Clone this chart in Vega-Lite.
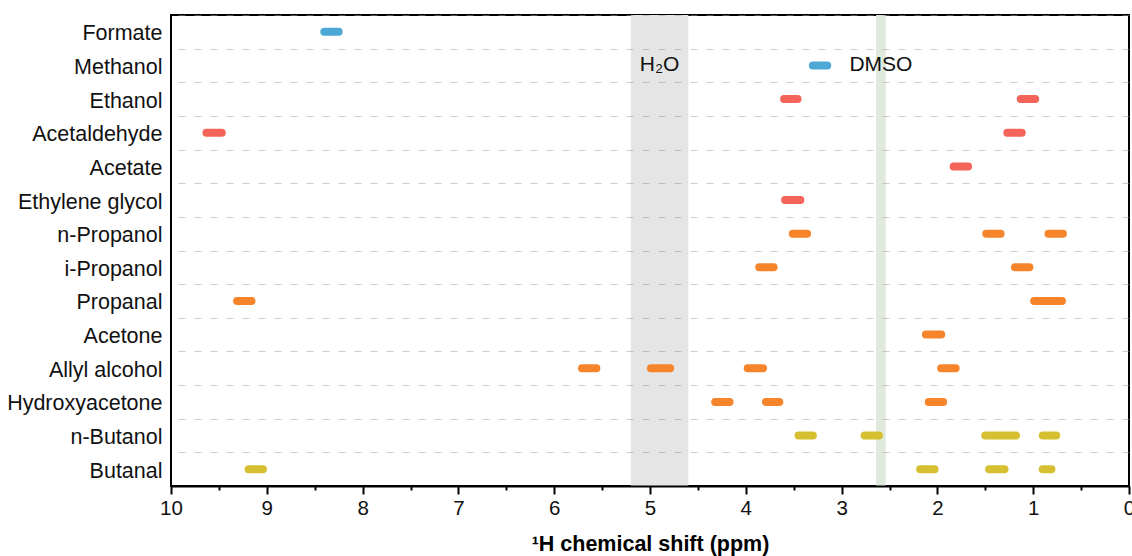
{
  "$schema": "https://vega.github.io/schema/vega-lite/v6.json",
  "width": 958,
  "height": 471,
  "autosize": "none",
  "padding": {"left": 171, "top": 15, "right": 3, "bottom": 70},
  "background": "white",
  "config": {
    "font": "Liberation Sans",
    "view": {"stroke": "black", "strokeWidth": 2, "fill": "white"}
  },
  "datasets": {
    "bands": [
      {"band": "H2O", "start": 5.2, "end": 4.6},
      {"band": "DMSO", "start": 2.64, "end": 2.54}
    ],
    "peaks": [
      {"compound": "Formate", "group": "C1", "start": 8.40, "end": 8.25},
      {"compound": "Methanol", "group": "C1", "start": 3.30, "end": 3.15},
      {"compound": "Ethanol", "group": "C2", "start": 3.60, "end": 3.46},
      {"compound": "Ethanol", "group": "C2", "start": 1.13, "end": 0.98},
      {"compound": "Acetaldehyde", "group": "C2", "start": 9.63, "end": 9.47},
      {"compound": "Acetaldehyde", "group": "C2", "start": 1.27, "end": 1.12},
      {"compound": "Acetate", "group": "C2", "start": 1.83, "end": 1.68},
      {"compound": "Ethylene glycol", "group": "C2", "start": 3.59, "end": 3.43},
      {"compound": "n-Propanol", "group": "C3", "start": 3.51, "end": 3.36},
      {"compound": "n-Propanol", "group": "C3", "start": 1.49, "end": 1.34},
      {"compound": "n-Propanol", "group": "C3", "start": 0.84, "end": 0.69},
      {"compound": "i-Propanol", "group": "C3", "start": 3.86, "end": 3.71},
      {"compound": "i-Propanol", "group": "C3", "start": 1.19, "end": 1.04},
      {"compound": "Propanal", "group": "C3", "start": 9.31, "end": 9.16},
      {"compound": "Propanal", "group": "C3", "start": 0.99, "end": 0.70},
      {"compound": "Acetone", "group": "C3", "start": 2.12, "end": 1.96},
      {"compound": "Allyl alcohol", "group": "C3", "start": 5.71, "end": 5.56},
      {"compound": "Allyl alcohol", "group": "C3", "start": 4.99, "end": 4.79},
      {"compound": "Allyl alcohol", "group": "C3", "start": 3.98, "end": 3.82},
      {"compound": "Allyl alcohol", "group": "C3", "start": 1.96, "end": 1.81},
      {"compound": "Hydroxyacetone", "group": "C3", "start": 4.32, "end": 4.17},
      {"compound": "Hydroxyacetone", "group": "C3", "start": 3.79, "end": 3.65},
      {"compound": "Hydroxyacetone", "group": "C3", "start": 2.09, "end": 1.94},
      {"compound": "n-Butanol", "group": "C4", "start": 3.45, "end": 3.30},
      {"compound": "n-Butanol", "group": "C4", "start": 2.76, "end": 2.61},
      {"compound": "n-Butanol", "group": "C4", "start": 1.50, "end": 1.18},
      {"compound": "n-Butanol", "group": "C4", "start": 0.90, "end": 0.76},
      {"compound": "Butanal", "group": "C4", "start": 9.19, "end": 9.04},
      {"compound": "Butanal", "group": "C4", "start": 2.18, "end": 2.03},
      {"compound": "Butanal", "group": "C4", "start": 1.46, "end": 1.30},
      {"compound": "Butanal", "group": "C4", "start": 0.90, "end": 0.81}
    ],
    "notes": [
      {"label": "H₂O", "x": 4.9, "compound": "Methanol"},
      {"label": "DMSO", "x": 2.59, "compound": "Methanol"}
    ]
  },
  "layer": [
    {
      "data": {"name": "bands"},
      "mark": {"type": "rect"},
      "encoding": {
        "x": {
          "field": "start", "type": "quantitative",
          "scale": {"domain": [0, 10], "reverse": true, "nice": false, "zero": false},
          "axis": {
            "title": "¹H chemical shift (ppm)",
            "titleFont": "Liberation Sans",
            "titleFontSize": 21.5,
            "titleFontWeight": "bold",
            "titleColor": "black",
            "titlePadding": 15,
            "values": [0, 0.5, 1, 1.5, 2, 2.5, 3, 3.5, 4, 4.5, 5, 5.5, 6, 6.5, 7, 7.5, 8, 8.5, 9, 9.5, 10],
            "labelExpr": "datum.value % 1 === 0 ? format(datum.value, 'd') : ''",
            "labelFontSize": 20.5,
            "labelColor": "#111111",
            "labelOverlap": false,
            "labelFlush": false,
            "labelBound": false,
            "labelPadding": 4,
            "tickColor": "black",
            "tickWidth": 2,
            "tickSize": {"condition": {"test": "datum.value % 1 !== 0", "value": 4}, "value": 8},
            "domainColor": "black",
            "domainWidth": 2,
            "grid": false,
            "zindex": 1
          }
        },
        "x2": {"field": "end"},
        "color": {
          "field": "band", "type": "nominal",
          "scale": {"domain": ["C1", "C2", "C3", "C4", "H2O", "DMSO"], "range": ["#4ea8d6", "#f5645a", "#f5842b", "#d6c031", "#e5e5e5", "#dfe9dc"]},
          "legend": null
        }
      }
    },
    {
      "data": {"name": "peaks"},
      "mark": {"type": "rule", "strokeWidth": 8, "strokeCap": "round"},
      "encoding": {
        "x": {"field": "start", "type": "quantitative"},
        "x2": {"field": "end"},
        "y": {
          "field": "compound", "type": "nominal",
          "scale": {"type": "band", "paddingInner": 0, "paddingOuter": 0, "domain": ["Formate", "Methanol", "Ethanol", "Acetaldehyde", "Acetate", "Ethylene glycol", "n-Propanol", "i-Propanol", "Propanal", "Acetone", "Allyl alcohol", "Hydroxyacetone", "n-Butanol", "Butanal"]},
          "axis": {
            "title": null,
            "ticks": false,
            "domain": false,
            "labelFontSize": 21.5,
            "labelColor": "#111111",
            "labelPadding": 9,
            "labelOffset": 2,
            "grid": true,
            "tickBand": "extent",
            "gridColor": "#999999",
            "gridOpacity": 0.5,
            "gridDash": [7, 9],
            "gridWidth": 1,
            "zindex": 1
          }
        },
        "color": {"field": "group", "type": "nominal", "legend": null}
      }
    },
    {
      "data": {"name": "notes"},
      "mark": {"type": "text", "fontSize": 21, "color": "#111111", "align": "center", "baseline": "middle"},
      "encoding": {
        "x": {"field": "x", "type": "quantitative"},
        "y": {"field": "compound", "type": "nominal"},
        "text": {"field": "label"}
      }
    }
  ]
}
